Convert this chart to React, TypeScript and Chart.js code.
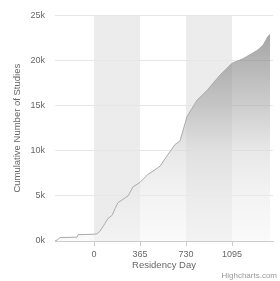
import React, { useEffect, useRef } from "react";
import { Chart, registerables } from "chart.js";

Chart.register(...registerables);

const residencyDays = [-310, -294, -270, -135, -127, 0, 24, 48, 87, 111, 143, 167, 190, 238, 270, 309, 365, 428, 484, 524, 587, 643, 682, 738, 817, 897, 1000, 1095, 1182, 1293, 1341, 1381, 1397];
const cumulativeStudies = [0, 100, 380, 420, 700, 750, 800, 1100, 1950, 2500, 2850, 3600, 4250, 4700, 5000, 6000, 6500, 7400, 7900, 8300, 9600, 10700, 11100, 13800, 15600, 16700, 18400, 19700, 20200, 21100, 21700, 22700, 22900];
const xTickValues = [0, 365, 730, 1095];
const yTickValues = [0, 5000, 10000, 15000, 20000, 25000];
const plotBands = [[0, 365], [730, 1095]];

const FONT = "'Liberation Sans', Arial, sans-serif";

export default function App() {
  const ref = useRef<HTMLCanvasElement | null>(null);
  useEffect(() => {
    const canvas = ref.current;
    if (!canvas) return;
    let pattern: CanvasPattern | string = "#ececec";
    const pc = document.createElement("canvas");
    pc.width = 2;
    pc.height = 2;
    const pctx = pc.getContext("2d");
    if (pctx) {
      pctx.fillStyle = "#eeeeee";
      pctx.fillRect(0, 0, 2, 2);
      pctx.fillStyle = "#e9e9e9";
      pctx.fillRect(0, 0, 1, 1);
      pctx.fillRect(1, 1, 1, 1);
      const p = canvas.getContext("2d")!.createPattern(pc, "repeat");
      if (p) pattern = p;
    }
    const bandsPlugin = {
      id: "bands",
      beforeDraw(chart: any) {
        const { ctx, chartArea, scales } = chart;
        ctx.save();
        ctx.fillStyle = pattern;
        for (const [a, b] of plotBands) {
          const x1 = scales.x.getPixelForValue(a);
          const x2 = scales.x.getPixelForValue(b);
          ctx.fillRect(x1, chartArea.top, x2 - x1, chartArea.bottom - chartArea.top);
        }
        ctx.restore();
      },
      afterDraw(chart: any) {
        const { ctx } = chart;
        ctx.save();
        ctx.font = `8px ${FONT}`;
        ctx.fillStyle = "#999";
        ctx.textAlign = "right";
        ctx.textBaseline = "bottom";
        ctx.fillText("Highcharts.com", 277, 280);
        ctx.restore();
      },
    };
    const chart = new Chart(canvas, {
      type: "line",
      data: {
        datasets: [
          {
            data: residencyDays.map((d, i) => ({ x: d, y: cumulativeStudies[i] })),
            borderColor: "#ababab",
            borderWidth: 1,
            pointRadius: 0,
            tension: 0,
            fill: "origin",
            backgroundColor: (c: any) => {
              const area = c.chart.chartArea;
              if (!area) return "rgba(150,150,150,0.5)";
              const g = c.chart.ctx.createLinearGradient(0, area.top, 0, area.bottom);
              g.addColorStop(0, "rgba(97,97,97,0.6)");
              g.addColorStop(0.1, "rgba(110,110,110,0.6)");
              g.addColorStop(0.2, "rgba(130,130,130,0.6)");
              g.addColorStop(0.4, "rgba(172,172,172,0.6)");
              g.addColorStop(0.6, "rgba(217,217,217,0.6)");
              g.addColorStop(0.8, "rgba(235,235,235,0.6)");
              g.addColorStop(1, "rgba(247,247,247,0.6)");
              return g;
            },
          },
        ],
      },
      options: {
        animation: false,
        responsive: false,
        layout: { padding: { left: 0, top: 12, right: 7, bottom: 0 } },
        plugins: { legend: { display: false }, tooltip: { enabled: false } },
        scales: {
          x: {
            type: "linear",
            min: -310,
            max: 1420,
            afterFit: (s: any) => { s.height = 40; },
            afterBuildTicks: (s: any) => { s.ticks = xTickValues.map((v) => ({ value: v })); },
            grid: { drawOnChartArea: false, drawTicks: true, tickLength: 5, color: "#cccccc" },
            border: { display: true, color: "#cccccc" },
            ticks: { color: "#666", font: { family: FONT, size: 9 }, padding: 3, maxRotation: 0, callback: (v: any) => String(v) },
            title: { display: true, text: "Residency Day", color: "#666", font: { family: FONT, size: 9.5 }, padding: { top: 0, bottom: 10 } },
          },
          y: {
            type: "linear",
            min: 0,
            max: 25000,
            afterFit: (s: any) => { s.width = 55; },
            afterBuildTicks: (s: any) => { s.ticks = yTickValues.map((v) => ({ value: v })); },
            grid: { color: "#e6e6e6", drawTicks: false },
            border: { display: false },
            ticks: { color: "#666", font: { family: FONT, size: 9 }, padding: 10, callback: (v: any) => `${Number(v) / 1000}k` },
            title: { display: true, text: "Cumulative Number of Studies", color: "#666", font: { family: FONT, size: 9.5 }, padding: { top: 12, bottom: 0 } },
          },
        },
      },
      plugins: [bandsPlugin],
    });
    return () => chart.destroy();
  }, []);
  return (
    <div style={{ position: "absolute", left: 0, top: 0, width: 280, height: 281 }}>
      <canvas ref={ref} width={280} height={281} />
    </div>
  );
}
